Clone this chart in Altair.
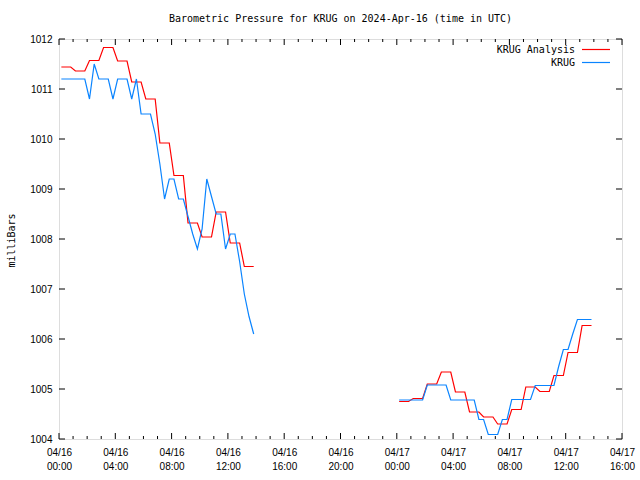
import altair as alt
import pandas as pd

TITLE = "Barometric Pressure for KRUG on 2024-Apr-16 (time in UTC)"
Y_TITLE = "milliBars"
SERIES = ["KRUG Analysis", "KRUG"]
COLORS = ["#ff0000", "#0a84ff"]
FONT = "DejaVu Sans Mono"

# two data segments (observations every 20 minutes)
SEG_STARTS = ["2024-04-16 00:10", "2024-04-17 00:10"]
STEP = "20min"

analysis_day1 = [
    1011.44, 1011.44, 1011.44, 1011.36, 1011.36, 1011.36,
    1011.57, 1011.57, 1011.57, 1011.83, 1011.83, 1011.83,
    1011.56, 1011.56, 1011.56, 1011.14, 1011.14, 1011.14,
    1010.80, 1010.80, 1010.80, 1009.92, 1009.92, 1009.92,
    1009.27, 1009.27, 1009.27, 1008.32, 1008.32, 1008.32,
    1008.04, 1008.04, 1008.04, 1008.54, 1008.54, 1008.54,
    1007.92, 1007.92, 1007.92, 1007.45, 1007.45, 1007.45,
]
analysis_day2 = [
    1004.75, 1004.75, 1004.75, 1004.81, 1004.81, 1004.81,
    1005.10, 1005.10, 1005.10, 1005.34, 1005.34, 1005.34,
    1004.94, 1004.94, 1004.94, 1004.54, 1004.54, 1004.54,
    1004.44, 1004.44, 1004.44, 1004.30, 1004.30, 1004.30,
    1004.59, 1004.59, 1004.59, 1005.04, 1005.04, 1005.04,
    1004.95, 1004.95, 1004.95, 1005.27, 1005.27, 1005.27,
    1005.73, 1005.73, 1005.73, 1006.27, 1006.27, 1006.27,
]
obs_day1 = [
    1011.2, 1011.2, 1011.2, 1011.2, 1011.2, 1011.2,
    1010.8, 1011.5, 1011.2, 1011.2, 1011.2, 1010.8,
    1011.2, 1011.2, 1011.2, 1010.8, 1011.2, 1010.5,
    1010.5, 1010.5, 1010.1, 1009.5, 1008.8, 1009.2,
    1009.2, 1008.8, 1008.8, 1008.45, 1008.1, 1007.8,
    1008.2, 1009.2, 1008.85, 1008.5, 1008.5, 1007.8,
    1008.1, 1008.1, 1007.55, 1006.9, 1006.45, 1006.1,
]
obs_day2 = [
    1004.78, 1004.78, 1004.78, 1004.78, 1004.78, 1004.78,
    1005.08, 1005.08, 1005.08, 1005.08, 1005.08, 1004.78,
    1004.78, 1004.78, 1004.78, 1004.78, 1004.78, 1004.39,
    1004.39, 1004.09, 1004.09, 1004.09, 1004.39, 1004.39,
    1004.79, 1004.79, 1004.79, 1004.79, 1004.79, 1005.07,
    1005.07, 1005.07, 1005.07, 1005.07, 1005.45, 1005.79,
    1005.79, 1006.10, 1006.39, 1006.39, 1006.39, 1006.39,
]

X_START = "2024-04-16 00:00"
X_END = "2024-04-17 16:00"
Y_MIN, Y_MAX = 1004, 1012

W, H = 563, 400


def iso(ts):
    return ts.strftime("%Y-%m-%dT%H:%M:%SZ")


rows = []
for name, segs in [(SERIES[0], [analysis_day1, analysis_day2]),
                   (SERIES[1], [obs_day1, obs_day2])]:
    for k, (start, vals) in enumerate(zip(SEG_STARTS, segs)):
        times = pd.date_range(start, periods=len(vals), freq=STEP)
        for t, v in zip(times, vals):
            rows.append({"time": iso(t), "value": v, "series": name,
                         "seg": f"{name}-{k}"})
df = pd.DataFrame(rows)

hours = pd.date_range(X_START, X_END, freq="1h")
tick_df = pd.DataFrame({"time": [iso(t) for t in hours],
                        "major": [t.hour % 4 == 0 for t in hours]})
ytick_df = pd.DataFrame({"value": list(range(Y_MIN, Y_MAX + 1))})


def dt(s):
    t = pd.Timestamp(s)
    return alt.DateTime(year=t.year, month=t.month, date=t.day,
                        hours=t.hour, minutes=t.minute, utc=True)


major_values = [dt(t) for t in hours if t.hour % 4 == 0]

x_scale = alt.Scale(type="utc", domain=[dt(X_START), dt(X_END)], nice=False)
y_scale = alt.Scale(domain=[Y_MIN, Y_MAX], nice=False, zero=False)

x_axis = alt.Axis(
    values=major_values, ticks=False, tickSize=0, domain=False, grid=False,
    labelExpr="[utcFormat(datum.value, '%m/%d'), utcFormat(datum.value, '%H:%M')]",
    labelPadding=8, labelLineHeight=14, labelFlush=False, labelOverlap=False,
    title=None,
)
y_axis = alt.Axis(
    values=list(range(Y_MIN, Y_MAX + 1)), ticks=False, tickSize=0, domain=False,
    grid=False, labelPadding=7, format="d", title=Y_TITLE,
    titleX=-48, titleY=201, titleAngle=-90, titleAlign="center",
    titleBaseline="middle", titleFont=FONT, titleFontSize=10,
    titleFontWeight="normal", titleColor="black",
)

lines = alt.Chart(df).mark_line(strokeWidth=1.2).encode(
    x=alt.X("time:T", scale=x_scale, axis=x_axis),
    y=alt.Y("value:Q", scale=y_scale, axis=y_axis),
    color=alt.Color("series:N", scale=alt.Scale(domain=SERIES, range=COLORS),
                    legend=None),
    detail="seg:N",
)

xt = alt.X("time:T", scale=x_scale)
maj = tick_df[tick_df["major"]]
mnr = tick_df[~tick_df["major"]]
tick_layers = [
    alt.Chart(maj).mark_rule(color="black").encode(x=xt, y=alt.value(H), y2=alt.value(H - 6)),
    alt.Chart(maj).mark_rule(color="black").encode(x=xt, y=alt.value(0), y2=alt.value(6)),
    alt.Chart(mnr).mark_rule(color="black").encode(x=xt, y=alt.value(H), y2=alt.value(H - 3)),
    alt.Chart(mnr).mark_rule(color="black").encode(x=xt, y=alt.value(0), y2=alt.value(3)),
    alt.Chart(ytick_df).mark_rule(color="black").encode(
        y=alt.Y("value:Q", scale=y_scale), x=alt.value(0), x2=alt.value(6)),
    alt.Chart(ytick_df).mark_rule(color="black").encode(
        y=alt.Y("value:Q", scale=y_scale), x=alt.value(W - 6), x2=alt.value(W)),
]

legend_layers = []
for i, (name, col) in enumerate(zip(SERIES, COLORS)):
    ly = 11 + 13 * i
    ldf = pd.DataFrame({"name": [name]})
    legend_layers.append(
        alt.Chart(ldf).mark_text(align="right", baseline="middle", font=FONT,
                                 fontSize=10, color="black").encode(
            text="name:N", x=alt.value(516), y=alt.value(ly)))
    legend_layers.append(
        alt.Chart(ldf).mark_rule(color=col, strokeWidth=1.2).encode(
            x=alt.value(523), x2=alt.value(551), y=alt.value(ly - 0.5)))

chart = alt.layer(lines, *tick_layers, *legend_layers).properties(
    width=W, height=H,
    title=alt.Title(TITLE, font=FONT, fontSize=10, fontWeight="normal",
                    anchor="middle", offset=10, color="black"),
    autosize=alt.AutoSizeParams(type="none"),
    padding={"left": 59, "top": 39, "right": 18, "bottom": 41},
).configure_view(stroke="black", strokeWidth=1).configure_axis(
    labelFont=FONT, labelFontSize=10, labelColor="black",
    titleFont=FONT, titleFontSize=10, titleFontWeight="normal", titleColor="black",
).configure(background="white")

chart.save("out.html", embed_options={"renderer": "svg", "actions": False})
